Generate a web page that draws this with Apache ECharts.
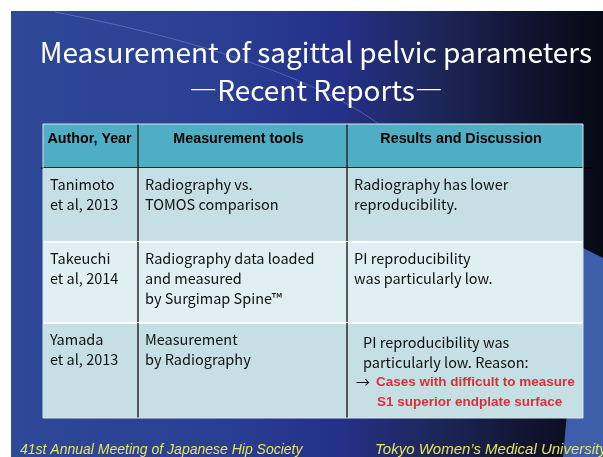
<!DOCTYPE html>
<html>
<head>
<meta charset="utf-8">
<script src="https://cdn.jsdelivr.net/npm/echarts@6/dist/echarts.min.js"></script>
<style>
  html, body { margin: 0; padding: 0; background: #fff; }
  #chart { width: 603px; height: 457px; }
</style>
</head>
<body>
<div id="chart"></div>
<script>
const titleLines = ['Measurement of sagittal pelvic parameters', '\u2015Recent Reports\u2015'];
const headers = ['Author, Year', 'Measurement tools', 'Results and Discussion'];
const authors = ['Tanimoto\net al, 2013', 'Takeuchi\net al, 2014', 'Yamada\net al, 2013'];
const tools = ['Radiography vs.\nTOMOS comparison', 'Radiography data loaded\nand measured\nby Surgimap Spine\u2122', 'Measurement\nby Radiography'];
const results = ['Radiography has lower\nreproducibility.', 'PI reproducibility\nwas particularly low.', 'PI reproducibility was\nparticularly low. Reason:'];
const reasonLines = ['Cases with difficult to measure', 'S1 superior endplate surface'];
const footerLeft = '41st Annual Meeting of Japanese Hip Society';
const footerRight = 'Tokyo Women\u2019s Medical University';

// table layout (in table units = px)
const colEdges = [0, 95, 304, 540];
const rowEdges = [0, 44, 118, 199, 294];
const rowFills = ['#4fadc4', '#c5dfe5', '#e0eff3', '#c5dfe5'];
const headShift = [-1, -4, -4];

const cells = [];
for (let r = 0; r < 4; r++) {
  for (let c = 0; c < 3; c++) cells.push([c, r]);
}
const body = [authors, tools, results];

const chartDom = document.getElementById('chart');
const myChart = echarts.init(chartDom);

const bodyFont = '14.5px "Noto Sans CJK JP", sans-serif';
const headFont = 'bold 14.3px "Liberation Sans", sans-serif';
const redFont = 'bold 13.5px "Liberation Sans", sans-serif';

function renderCell(params, api) {
  const c = api.value(0), r = api.value(1);
  const p0 = api.coord([colEdges[c], rowEdges[r]]);
  const p1 = api.coord([colEdges[c + 1], rowEdges[r + 1]]);
  const children = [{
    type: 'rect',
    shape: { x: p0[0], y: p0[1], width: p1[0] - p0[0], height: p1[1] - p0[1] },
    style: { fill: rowFills[r] }
  }];
  if (r === 0) {
    children.push({
      type: 'text',
      style: {
        text: headers[c], x: (p0[0] + p1[0]) / 2 + headShift[c], y: p0[1] + 8,
        font: headFont, fill: '#000', align: 'center', verticalAlign: 'top'
      }
    });
  } else if (c === 2 && r === 3) {
    const rl = results[2].split('\n');
    children.push({
      type: 'text',
      style: {
        text: '{n|' + rl[0] + '}\n{n|' + rl[1] + '}\n{a|\u2192}{r|' + reasonLines[0] + '}\n{s|' + reasonLines[1] + '}',
        x: p0[0] + 9, y: p0[1] + 9, verticalAlign: 'top',
        rich: {
          n: { font: bodyFont, fill: '#111', lineHeight: 20, padding: [0, 0, 0, 7] },
          a: { font: '14px "Noto Sans CJK JP", sans-serif', fill: '#111', lineHeight: 20, padding: [0, 6, 0, 0] },
          r: { font: redFont, fill: '#d9303c', lineHeight: 20 },
          s: { font: redFont, fill: '#d9303c', lineHeight: 20, padding: [0, 0, 0, 21] }
        }
      }
    });
  } else {
    children.push({
      type: 'text',
      style: {
        text: body[c][r - 1], x: p0[0] + 7, y: p0[1] + 6,
        font: bodyFont, fill: '#111', lineHeight: 20, verticalAlign: 'top'
      }
    });
  }
  // white row separator
  if (r > 1) {
    children.push({
      type: 'line',
      shape: { x1: p0[0], y1: p0[1], x2: p1[0], y2: p0[1] },
      style: { stroke: '#ffffff', lineWidth: 2 }
    });
  }
  // column divider
  if (c > 0) {
    children.push({
      type: 'line',
      shape: { x1: p0[0], y1: p0[1], x2: p0[0], y2: p1[1] },
      style: { stroke: '#2a2a2a', lineWidth: 1.5 }
    });
  }
  // header bottom rule
  if (r === 0) {
    children.push({
      type: 'line',
      shape: { x1: p0[0] - (c === 0 ? 2 : 0), y1: p1[1], x2: p1[0] + (c === 2 ? 10 : 0), y2: p1[1] },
      style: { stroke: '#000', lineWidth: 1.5 }
    });
  }
  return { type: 'group', children: children };
}

const option = {
  backgroundColor: '#ffffff',
  animation: false,
  graphic: [
    {
      type: 'rect', z: -10,
      shape: { x: 11, y: 11, width: 592, height: 446 },
      style: {
        fill: new echarts.graphic.LinearGradient(0, 0, 1, 0, [
          { offset: 0, color: '#2f4897' },
          { offset: 0.35, color: '#2a3f93' },
          { offset: 0.55, color: '#243189' },
          { offset: 0.72, color: '#1d2659' },
          { offset: 0.88, color: '#10142f' },
          { offset: 1, color: '#070914' }
        ])
      }
    },
    {
      type: 'bezierCurve', z: -9,
      shape: { x1: 55, y1: 12, cpx1: 200, cpy1: 40, cpx2: 320, cpy2: 80, x2: 380, y2: 125 },
      style: { stroke: 'rgba(160,180,230,0.35)', lineWidth: 1, fill: null }
    },
    {
      type: 'polygon', z: -9,
      shape: { points: [[583, 248], [603, 258], [603, 457], [563, 457], [570, 380]] },
      style: { fill: '#3f5eaa' }
    },
    {
      type: 'text',
      style: {
        text: titleLines.join('\n'), x: 316, y: 33, align: 'center', verticalAlign: 'top',
        font: '28px "Noto Sans CJK JP", sans-serif', fill: '#ffffff', lineHeight: 38
      }
    },
    {
      type: 'text',
      style: {
        text: footerLeft, x: 20, y: 450, verticalAlign: 'middle',
        font: 'italic 14px "Liberation Sans", sans-serif', fill: '#e8e45a'
      }
    },
    {
      type: 'text',
      style: {
        text: footerRight, x: 375, y: 450, verticalAlign: 'middle',
        font: 'italic 15px "Liberation Sans", sans-serif', fill: '#e8e45a'
      }
    }
  ],
  grid: { left: 43, top: 124, width: 540, height: 294 },
  xAxis: { type: 'value', min: 0, max: 540, show: false },
  yAxis: { type: 'value', min: 0, max: 294, inverse: true, show: false },
  series: [{
    type: 'custom',
    renderItem: renderCell,
    data: cells,
    clip: false
  }, {
    // thin outer border of the table
    type: 'custom',
    renderItem: function (params, api) {
      const a = api.coord([0, 0]);
      const b = api.coord([540, 294]);
      return {
        type: 'rect',
        shape: { x: a[0], y: a[1], width: b[0] - a[0], height: b[1] - a[1] },
        style: { fill: null, stroke: '#d8e4ea', lineWidth: 1 }
      };
    },
    data: [[0, 0]],
    clip: false
  }]
};
myChart.setOption(option);
</script>
</body>
</html>
